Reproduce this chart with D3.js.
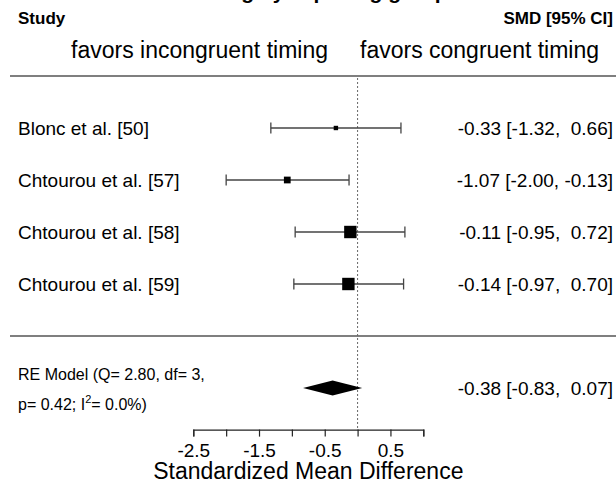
<!DOCTYPE html>
<html>
<head>
<meta charset="utf-8">
<script src="https://cdn.jsdelivr.net/npm/d3@7"></script>
<style>
  html, body { margin: 0; padding: 0; background: #fff; }
  svg { display: block; }
  text { font-family: "Liberation Sans", Arial, Helvetica, sans-serif; fill: #000; white-space: pre; }
</style>
</head>
<body>
<div id="chart"></div>
<script>
// ---- data ----
const titleText = "Training by exposing group";
const studies = ["Blonc et al. [50]", "Chtourou et al. [57]", "Chtourou et al. [58]", "Chtourou et al. [59]"];
const smd = [-0.33, -1.07, -0.11, -0.14];
const ciLow = [-1.32, -2.00, -0.95, -0.97];
const ciHigh = [0.66, -0.13, 0.72, 0.70];
const weights = [20.3, 22.7, 28.5, 28.5];
const reModel = [-0.38, -0.83, 0.07];            // estimate, lower, upper
const reLabel1 = "RE Model (Q= 2.80, df= 3,";
const reLabel2a = "p= 0.42; I";
const reLabel2b = "2";
const reLabel2c = "= 0.0%)";
const axisTicks = [-2.5, -2, -1.5, -1, -0.5, 0, 0.5, 1];
const tickLabels = ["-2.5", "", "-1.5", "", "-0.5", "", "0.5", ""];
const headerLeft = "Study";
const headerRight = "SMD [95% CI]";
const favorsLeft = "favors incongruent timing";
const favorsRight = "favors congruent timing";
const xTitle = "Standardized Mean Difference";

// ---- layout ----
const W = 616, H = 482;
const svg = d3.select("#chart").append("svg").attr("width", W).attr("height", H);

const x = d3.scaleLinear().domain([-2.5, 1.0]).range([193.3, 423.3]);
const y = d3.scaleLinear().domain([5, 0]).range([76, 336]);   // metafor-style row numbers
const rowOf = i => studies.length - i;
const sq = d3.scaleLinear().domain([d3.min(weights), d3.max(weights)]).range([4.4, 12.4]);

const fmt = v => (v < 0 ? "" : " ") + v.toFixed(2);
const annot = (e, l, u) => `${fmt(e).trim()} [${fmt(l).trim()}, ${fmt(u)}]`;

// title (cut off at top)
svg.append("text").attr("x", 310).attr("y", -1).attr("text-anchor", "middle")
  .attr("font-size", 21).attr("font-weight", "bold").text(titleText);

// headers
svg.append("text").attr("x", 18).attr("y", 24).attr("font-size", 17).attr("font-weight", "bold").text(headerLeft);
svg.append("text").attr("x", 613).attr("y", 24).attr("text-anchor", "end").attr("font-size", 17).attr("font-weight", "bold").text(headerRight);
svg.append("text").attr("x", 328).attr("y", 58).attr("text-anchor", "end").attr("font-size", 23).text(favorsLeft);
svg.append("text").attr("x", 360).attr("y", 58).attr("text-anchor", "start").attr("font-size", 23).text(favorsRight);

// horizontal rules
[5, 0].forEach(r => {
  svg.append("line").attr("x1", 10).attr("x2", W).attr("y1", y(r)).attr("y2", y(r))
    .attr("stroke", "#555").attr("stroke-width", 1.6);
});

// reference line at 0
svg.append("line").attr("x1", x(0)).attr("x2", x(0)).attr("y1", y(5) + 2).attr("y2", y(-1.8))
  .attr("stroke", "#666").attr("stroke-width", 1).attr("stroke-dasharray", "2,2");

// studies
const g = svg.append("g");
studies.forEach((s, i) => {
  const yy = y(rowOf(i));
  g.append("text").attr("x", 18).attr("y", yy).attr("dy", "0.36em").attr("font-size", 19).text(s);
  g.append("line").attr("x1", x(ciLow[i])).attr("x2", x(ciHigh[i])).attr("y1", yy).attr("y2", yy)
    .attr("stroke", "#444").attr("stroke-width", 1.3);
  [ciLow[i], ciHigh[i]].forEach(v => {
    g.append("line").attr("x1", x(v)).attr("x2", x(v)).attr("y1", yy - 5.5).attr("y2", yy + 5.5)
      .attr("stroke", "#444").attr("stroke-width", 1.3);
  });
  const sz = sq(weights[i]);
  g.append("rect").attr("x", x(smd[i]) - sz / 2).attr("y", yy - sz / 2).attr("width", sz).attr("height", sz).attr("fill", "#000");
  g.append("text").attr("x", 613).attr("y", yy).attr("dy", "0.36em").attr("text-anchor", "end")
    .attr("font-size", 19).text(annot(smd[i], ciLow[i], ciHigh[i]));
});

// summary
const ys = y(-1);
svg.append("path")
  .attr("d", `M${x(reModel[1])},${ys} L${x(reModel[0])},${ys - 7.5} L${x(reModel[2])},${ys} L${x(reModel[0])},${ys + 7.5} Z`)
  .attr("fill", "#000");
svg.append("text").attr("x", 18).attr("y", ys - 8).attr("font-size", 16).text(reLabel1);
const t2 = svg.append("text").attr("x", 18).attr("y", ys + 22).attr("font-size", 16);
t2.append("tspan").text(reLabel2a);
t2.append("tspan").attr("font-size", 11).attr("dy", -7).text(reLabel2b);
t2.append("tspan").attr("dy", 7).text(reLabel2c);
svg.append("text").attr("x", 613).attr("y", ys).attr("dy", "0.36em").attr("text-anchor", "end")
  .attr("font-size", 19).text(annot(reModel[0], reModel[1], reModel[2]));

// axis
const axisY = y(-1.8);
const ax = svg.append("g").attr("transform", `translate(0,${axisY})`)
  .call(d3.axisBottom(x).tickValues(axisTicks).tickFormat((d, i) => tickLabels[i]).tickSize(7).tickPadding(7));
ax.select(".domain").attr("stroke", "#222").attr("stroke-width", 1.2);
ax.selectAll(".tick line").attr("stroke", "#222").attr("stroke-width", 1.2);
ax.selectAll(".tick text").attr("font-size", 19).attr("font-family", "Liberation Sans, Arial, sans-serif").attr("fill", "#000");

svg.append("text").attr("x", x(-0.75)).attr("y", 479).attr("text-anchor", "middle").attr("font-size", 23).text(xTitle);
</script>
</body>
</html>
